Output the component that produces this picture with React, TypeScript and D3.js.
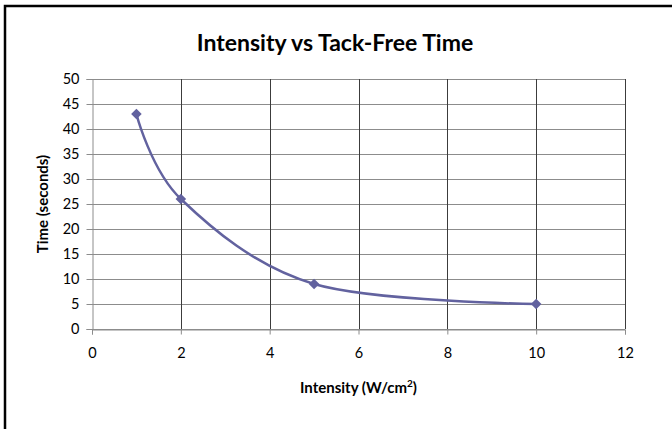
import React, { useEffect, useRef } from 'react';
import * as d3 from 'd3';

const intensity = [1, 2, 5, 10];
const timeSeconds = [43, 26, 9, 5];
const xTicks = [0, 2, 4, 6, 8, 10, 12];
const yTicks = [0, 5, 10, 15, 20, 25, 30, 35, 40, 45, 50];

const W = 672;
const H = 429;
const margin = { left: 92, right: 47, top: 79, bottom: 100 };
const font = 'Lato, "Open Sans", sans-serif';
const lineColor = '#62629f';

const App = () => {
  const svgRef = useRef<SVGSVGElement>(null);

  useEffect(() => {
    const svg = d3.select(svgRef.current);
    svg.selectAll('*').remove();

    const x = d3.scaleLinear().domain([0, 12]).range([margin.left, W - margin.right]);
    const y = d3.scaleLinear().domain([0, 50]).range([H - margin.bottom, margin.top]);

    // outer frame (clipped on right/bottom like the source)
    svg.append('rect')
      .attr('x', 5).attr('y', 6)
      .attr('width', W + 10).attr('height', H + 10)
      .attr('fill', '#fff').attr('stroke', '#000').attr('stroke-width', 2.5);

    // horizontal gridlines
    svg.append('g')
      .selectAll('line')
      .data(yTicks)
      .join('line')
      .attr('x1', x(0)).attr('x2', x(12))
      .attr('y1', d => Math.round(y(d)) + 0.5).attr('y2', d => Math.round(y(d)) + 0.5)
      .attr('stroke', '#8c8c8c').attr('stroke-width', 1);

    // vertical gridlines
    svg.append('g')
      .selectAll('line')
      .data(xTicks.filter(d => d > 0))
      .join('line')
      .attr('x1', d => Math.round(x(d)) + 0.5).attr('x2', d => Math.round(x(d)) + 0.5)
      .attr('y1', y(50)).attr('y2', y(0))
      .attr('stroke', '#3c3c3c').attr('stroke-width', 1);

    // y axis
    const yAxis = d3.axisLeft(y).tickValues(yTicks).tickSize(6).tickPadding(7);
    const gy = svg.append('g')
      .attr('transform', `translate(${Math.round(x(0)) + 0.5},0)`)
      .call(yAxis);
    gy.select('.domain').attr('stroke', '#8c8c8c');
    gy.selectAll('.tick line').attr('stroke', '#8c8c8c');
    gy.selectAll('.tick text')
      .attr('font-family', font).attr('font-size', 14.5).attr('fill', '#000');

    // x axis
    const xAxis = d3.axisBottom(x).tickValues(xTicks).tickSize(5).tickPadding(13);
    const gx = svg.append('g')
      .attr('transform', `translate(0,${Math.round(y(0)) + 0.5})`)
      .call(xAxis);
    gx.select('.domain').attr('stroke', '#8c8c8c');
    gx.selectAll('.tick line').attr('stroke', '#8c8c8c');
    gx.selectAll('.tick text')
      .attr('font-family', font).attr('font-size', 14.5).attr('fill', '#000');

    // series
    const pts = intensity.map((d, i) => [d, timeSeconds[i]] as [number, number]);
    const line = d3.line<[number, number]>()
      .x(d => x(d[0])).y(d => y(d[1]))
      .curve(d3.curveCardinal.tension(0));
    svg.append('path')
      .datum(pts)
      .attr('d', line)
      .attr('fill', 'none')
      .attr('stroke', lineColor)
      .attr('stroke-width', 2.5);

    // diamond markers: square turned 45 degrees
    svg.append('g')
      .selectAll('path')
      .data(pts)
      .join('path')
      .attr('transform', d => `translate(${x(d[0])},${y(d[1])}) rotate(45)`)
      .attr('d', d3.symbol(d3.symbolSquare, 56)())
      .attr('fill', lineColor);

    // title
    svg.append('text')
      .attr('x', 335).attr('y', 51)
      .attr('text-anchor', 'middle')
      .attr('font-family', font).attr('font-weight', 'bold').attr('font-size', 23)
      .text('Intensity vs Tack-Free Time');

    // y label
    svg.append('text')
      .attr('transform', `translate(48,${(y(0) + y(50)) / 2}) rotate(-90)`)
      .attr('text-anchor', 'middle')
      .attr('font-family', font).attr('font-weight', 'bold').attr('font-size', 15)
      .text('Time (seconds)');

    // x label
    const xl = svg.append('text')
      .attr('x', (x(0) + x(12)) / 2).attr('y', 393)
      .attr('text-anchor', 'middle')
      .attr('font-family', font).attr('font-weight', 'bold').attr('font-size', 15);
    xl.append('tspan').text('Intensity (W/cm');
    xl.append('tspan').attr('dy', -6).attr('font-size', 10).text('2');
    xl.append('tspan').attr('dy', 6).text(')');
  }, []);

  return (
    <svg ref={svgRef} width={W} height={H}
      style={{ position: 'absolute', left: 0, top: 0, display: 'block' }} />
  );
};

export default App;
